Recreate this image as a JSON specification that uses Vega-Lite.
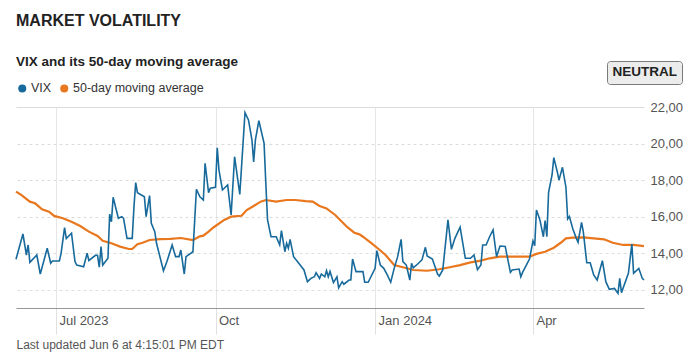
{
  "$schema": "https://vega.github.io/schema/vega-lite/v6.json",
  "width": 628,
  "height": 201,
  "autosize": {"type": "none"},
  "padding": {"left": 16, "top": 107, "right": 49, "bottom": 47},
  "background": "white",
  "config": {"font": "Liberation Sans", "view": {"stroke": null}},
  "title": {
    "text": "MARKET VOLATILITY",
    "subtitle": "VIX and its 50-day moving average",
    "anchor": "start",
    "frame": "group",
    "fontSize": 16,
    "fontWeight": "bold",
    "color": "#222222",
    "subtitleFontSize": 13.5,
    "subtitleFontWeight": "bold",
    "subtitleColor": "#222222",
    "subtitlePadding": 26,
    "offset": -8
  },
  "datasets": {
    "vix": [
      {"date": "2023-06-08", "series": "VIX", "value": 13.67},
      {"date": "2023-06-12", "series": "VIX", "value": 15.05},
      {"date": "2023-06-14", "series": "VIX", "value": 13.9},
      {"date": "2023-06-15", "series": "VIX", "value": 14.45},
      {"date": "2023-06-16", "series": "VIX", "value": 13.5},
      {"date": "2023-06-20", "series": "VIX", "value": 13.9},
      {"date": "2023-06-22", "series": "VIX", "value": 12.86},
      {"date": "2023-06-26", "series": "VIX", "value": 14.27},
      {"date": "2023-06-28", "series": "VIX", "value": 13.45},
      {"date": "2023-06-29", "series": "VIX", "value": 13.57},
      {"date": "2023-07-03", "series": "VIX", "value": 13.57},
      {"date": "2023-07-04", "series": "VIX", "value": 14.0},
      {"date": "2023-07-06", "series": "VIX", "value": 15.4},
      {"date": "2023-07-07", "series": "VIX", "value": 14.8},
      {"date": "2023-07-10", "series": "VIX", "value": 15.09},
      {"date": "2023-07-12", "series": "VIX", "value": 13.54},
      {"date": "2023-07-13", "series": "VIX", "value": 13.35},
      {"date": "2023-07-17", "series": "VIX", "value": 13.26},
      {"date": "2023-07-19", "series": "VIX", "value": 14.0},
      {"date": "2023-07-20", "series": "VIX", "value": 13.6},
      {"date": "2023-07-24", "series": "VIX", "value": 13.9},
      {"date": "2023-07-25", "series": "VIX", "value": 13.88},
      {"date": "2023-07-26", "series": "VIX", "value": 13.23},
      {"date": "2023-07-27", "series": "VIX", "value": 14.36},
      {"date": "2023-07-28", "series": "VIX", "value": 13.35},
      {"date": "2023-07-31", "series": "VIX", "value": 13.72},
      {"date": "2023-08-01", "series": "VIX", "value": 16.14},
      {"date": "2023-08-02", "series": "VIX", "value": 15.72},
      {"date": "2023-08-03", "series": "VIX", "value": 17.06},
      {"date": "2023-08-06", "series": "VIX", "value": 15.91},
      {"date": "2023-08-08", "series": "VIX", "value": 16.0},
      {"date": "2023-08-09", "series": "VIX", "value": 15.91},
      {"date": "2023-08-11", "series": "VIX", "value": 14.81},
      {"date": "2023-08-14", "series": "VIX", "value": 14.81},
      {"date": "2023-08-15", "series": "VIX", "value": 16.55},
      {"date": "2023-08-16", "series": "VIX", "value": 17.86},
      {"date": "2023-08-17", "series": "VIX", "value": 17.31},
      {"date": "2023-08-21", "series": "VIX", "value": 17.09},
      {"date": "2023-08-22", "series": "VIX", "value": 16.0},
      {"date": "2023-08-24", "series": "VIX", "value": 17.15},
      {"date": "2023-08-25", "series": "VIX", "value": 15.63},
      {"date": "2023-08-27", "series": "VIX", "value": 15.18},
      {"date": "2023-08-28", "series": "VIX", "value": 14.54},
      {"date": "2023-09-01", "series": "VIX", "value": 13.04},
      {"date": "2023-09-03", "series": "VIX", "value": 13.54},
      {"date": "2023-09-06", "series": "VIX", "value": 14.45},
      {"date": "2023-09-08", "series": "VIX", "value": 13.81},
      {"date": "2023-09-10", "series": "VIX", "value": 13.81},
      {"date": "2023-09-11", "series": "VIX", "value": 14.17},
      {"date": "2023-09-13", "series": "VIX", "value": 12.86},
      {"date": "2023-09-14", "series": "VIX", "value": 13.81},
      {"date": "2023-09-18", "series": "VIX", "value": 14.08},
      {"date": "2023-09-20", "series": "VIX", "value": 17.5},
      {"date": "2023-09-22", "series": "VIX", "value": 17.09},
      {"date": "2023-09-24", "series": "VIX", "value": 16.91},
      {"date": "2023-09-25", "series": "VIX", "value": 18.92},
      {"date": "2023-09-27", "series": "VIX", "value": 17.31},
      {"date": "2023-09-28", "series": "VIX", "value": 17.55},
      {"date": "2023-10-01", "series": "VIX", "value": 17.6},
      {"date": "2023-10-02", "series": "VIX", "value": 19.77},
      {"date": "2023-10-03", "series": "VIX", "value": 18.55},
      {"date": "2023-10-05", "series": "VIX", "value": 17.46},
      {"date": "2023-10-08", "series": "VIX", "value": 17.73},
      {"date": "2023-10-10", "series": "VIX", "value": 16.09},
      {"date": "2023-10-12", "series": "VIX", "value": 19.28},
      {"date": "2023-10-15", "series": "VIX", "value": 17.22},
      {"date": "2023-10-18", "series": "VIX", "value": 21.69},
      {"date": "2023-10-20", "series": "VIX", "value": 21.29},
      {"date": "2023-10-22", "series": "VIX", "value": 20.2},
      {"date": "2023-10-23", "series": "VIX", "value": 19.0},
      {"date": "2023-10-24", "series": "VIX", "value": 20.2},
      {"date": "2023-10-26", "series": "VIX", "value": 21.25},
      {"date": "2023-10-29", "series": "VIX", "value": 20.01},
      {"date": "2023-10-30", "series": "VIX", "value": 17.83},
      {"date": "2023-10-31", "series": "VIX", "value": 15.82},
      {"date": "2023-11-02", "series": "VIX", "value": 14.9},
      {"date": "2023-11-05", "series": "VIX", "value": 14.9},
      {"date": "2023-11-07", "series": "VIX", "value": 14.45},
      {"date": "2023-11-08", "series": "VIX", "value": 15.23},
      {"date": "2023-11-10", "series": "VIX", "value": 14.08},
      {"date": "2023-11-11", "series": "VIX", "value": 14.54},
      {"date": "2023-11-12", "series": "VIX", "value": 14.27},
      {"date": "2023-11-13", "series": "VIX", "value": 14.76},
      {"date": "2023-11-15", "series": "VIX", "value": 13.81},
      {"date": "2023-11-18", "series": "VIX", "value": 13.45},
      {"date": "2023-11-21", "series": "VIX", "value": 13.08},
      {"date": "2023-11-23", "series": "VIX", "value": 12.44},
      {"date": "2023-11-25", "series": "VIX", "value": 12.62},
      {"date": "2023-11-27", "series": "VIX", "value": 12.71},
      {"date": "2023-11-28", "series": "VIX", "value": 12.93},
      {"date": "2023-11-30", "series": "VIX", "value": 12.62},
      {"date": "2023-12-01", "series": "VIX", "value": 12.86},
      {"date": "2023-12-03", "series": "VIX", "value": 12.71},
      {"date": "2023-12-04", "series": "VIX", "value": 13.04},
      {"date": "2023-12-05", "series": "VIX", "value": 12.71},
      {"date": "2023-12-06", "series": "VIX", "value": 13.0},
      {"date": "2023-12-08", "series": "VIX", "value": 12.39},
      {"date": "2023-12-10", "series": "VIX", "value": 12.71},
      {"date": "2023-12-11", "series": "VIX", "value": 12.1},
      {"date": "2023-12-13", "series": "VIX", "value": 12.44},
      {"date": "2023-12-14", "series": "VIX", "value": 12.3},
      {"date": "2023-12-17", "series": "VIX", "value": 12.53},
      {"date": "2023-12-18", "series": "VIX", "value": 12.53},
      {"date": "2023-12-19", "series": "VIX", "value": 13.68},
      {"date": "2023-12-21", "series": "VIX", "value": 12.99},
      {"date": "2023-12-25", "series": "VIX", "value": 12.99},
      {"date": "2023-12-26", "series": "VIX", "value": 12.41},
      {"date": "2023-12-28", "series": "VIX", "value": 12.41},
      {"date": "2024-01-01", "series": "VIX", "value": 13.17},
      {"date": "2024-01-02", "series": "VIX", "value": 14.14},
      {"date": "2024-01-04", "series": "VIX", "value": 13.35},
      {"date": "2024-01-06", "series": "VIX", "value": 13.17},
      {"date": "2024-01-08", "series": "VIX", "value": 12.81},
      {"date": "2024-01-10", "series": "VIX", "value": 12.41},
      {"date": "2024-01-12", "series": "VIX", "value": 13.17},
      {"date": "2024-01-14", "series": "VIX", "value": 13.81},
      {"date": "2024-01-16", "series": "VIX", "value": 14.76},
      {"date": "2024-01-17", "series": "VIX", "value": 13.54},
      {"date": "2024-01-19", "series": "VIX", "value": 13.35},
      {"date": "2024-01-21", "series": "VIX", "value": 12.53},
      {"date": "2024-01-22", "series": "VIX", "value": 13.45},
      {"date": "2024-01-23", "series": "VIX", "value": 13.2},
      {"date": "2024-01-26", "series": "VIX", "value": 13.45},
      {"date": "2024-01-28", "series": "VIX", "value": 13.63},
      {"date": "2024-01-30", "series": "VIX", "value": 14.32},
      {"date": "2024-01-31", "series": "VIX", "value": 13.85},
      {"date": "2024-02-03", "series": "VIX", "value": 13.68},
      {"date": "2024-02-06", "series": "VIX", "value": 12.86},
      {"date": "2024-02-07", "series": "VIX", "value": 12.75},
      {"date": "2024-02-09", "series": "VIX", "value": 13.08},
      {"date": "2024-02-12", "series": "VIX", "value": 15.82},
      {"date": "2024-02-14", "series": "VIX", "value": 14.21},
      {"date": "2024-02-16", "series": "VIX", "value": 14.81},
      {"date": "2024-02-19", "series": "VIX", "value": 15.42},
      {"date": "2024-02-22", "series": "VIX", "value": 13.72},
      {"date": "2024-02-25", "series": "VIX", "value": 13.72},
      {"date": "2024-02-27", "series": "VIX", "value": 13.9},
      {"date": "2024-02-29", "series": "VIX", "value": 13.1},
      {"date": "2024-03-02", "series": "VIX", "value": 13.35},
      {"date": "2024-03-03", "series": "VIX", "value": 14.45},
      {"date": "2024-03-05", "series": "VIX", "value": 14.45},
      {"date": "2024-03-07", "series": "VIX", "value": 14.9},
      {"date": "2024-03-09", "series": "VIX", "value": 15.27},
      {"date": "2024-03-11", "series": "VIX", "value": 13.81},
      {"date": "2024-03-13", "series": "VIX", "value": 14.39},
      {"date": "2024-03-16", "series": "VIX", "value": 14.37},
      {"date": "2024-03-19", "series": "VIX", "value": 12.95},
      {"date": "2024-03-20", "series": "VIX", "value": 13.08},
      {"date": "2024-03-24", "series": "VIX", "value": 13.13},
      {"date": "2024-03-25", "series": "VIX", "value": 12.71},
      {"date": "2024-03-26", "series": "VIX", "value": 12.95},
      {"date": "2024-03-30", "series": "VIX", "value": 13.68},
      {"date": "2024-04-01", "series": "VIX", "value": 14.67},
      {"date": "2024-04-02", "series": "VIX", "value": 14.41},
      {"date": "2024-04-03", "series": "VIX", "value": 16.36},
      {"date": "2024-04-05", "series": "VIX", "value": 15.82},
      {"date": "2024-04-07", "series": "VIX", "value": 14.9},
      {"date": "2024-04-08", "series": "VIX", "value": 15.78},
      {"date": "2024-04-09", "series": "VIX", "value": 14.9},
      {"date": "2024-04-10", "series": "VIX", "value": 17.33},
      {"date": "2024-04-12", "series": "VIX", "value": 18.28},
      {"date": "2024-04-13", "series": "VIX", "value": 19.23},
      {"date": "2024-04-15", "series": "VIX", "value": 18.46},
      {"date": "2024-04-16", "series": "VIX", "value": 18.0},
      {"date": "2024-04-18", "series": "VIX", "value": 18.7},
      {"date": "2024-04-20", "series": "VIX", "value": 17.61},
      {"date": "2024-04-21", "series": "VIX", "value": 15.87},
      {"date": "2024-04-22", "series": "VIX", "value": 16.0},
      {"date": "2024-04-24", "series": "VIX", "value": 15.32},
      {"date": "2024-04-26", "series": "VIX", "value": 14.81},
      {"date": "2024-04-27", "series": "VIX", "value": 14.6},
      {"date": "2024-04-29", "series": "VIX", "value": 15.69},
      {"date": "2024-04-30", "series": "VIX", "value": 15.18},
      {"date": "2024-05-02", "series": "VIX", "value": 13.48},
      {"date": "2024-05-04", "series": "VIX", "value": 13.48},
      {"date": "2024-05-06", "series": "VIX", "value": 12.81},
      {"date": "2024-05-08", "series": "VIX", "value": 12.53},
      {"date": "2024-05-11", "series": "VIX", "value": 13.59},
      {"date": "2024-05-13", "series": "VIX", "value": 12.44},
      {"date": "2024-05-15", "series": "VIX", "value": 12.02},
      {"date": "2024-05-18", "series": "VIX", "value": 12.07},
      {"date": "2024-05-20", "series": "VIX", "value": 11.8},
      {"date": "2024-05-21", "series": "VIX", "value": 12.62},
      {"date": "2024-05-22", "series": "VIX", "value": 11.84},
      {"date": "2024-05-26", "series": "VIX", "value": 12.9},
      {"date": "2024-05-28", "series": "VIX", "value": 14.5},
      {"date": "2024-05-29", "series": "VIX", "value": 12.9},
      {"date": "2024-06-01", "series": "VIX", "value": 13.17},
      {"date": "2024-06-03", "series": "VIX", "value": 12.62},
      {"date": "2024-06-04", "series": "VIX", "value": 12.53}
    ],
    "ma": [
      {"date": "2023-06-08", "series": "50-day moving average", "value": 17.37},
      {"date": "2023-06-11", "series": "50-day moving average", "value": 17.19},
      {"date": "2023-06-16", "series": "50-day moving average", "value": 16.82},
      {"date": "2023-06-19", "series": "50-day moving average", "value": 16.73},
      {"date": "2023-06-23", "series": "50-day moving average", "value": 16.4},
      {"date": "2023-06-27", "series": "50-day moving average", "value": 16.27},
      {"date": "2023-06-30", "series": "50-day moving average", "value": 16.04},
      {"date": "2023-07-05", "series": "50-day moving average", "value": 15.91},
      {"date": "2023-07-10", "series": "50-day moving average", "value": 15.72},
      {"date": "2023-07-15", "series": "50-day moving average", "value": 15.49},
      {"date": "2023-07-20", "series": "50-day moving average", "value": 15.18},
      {"date": "2023-07-25", "series": "50-day moving average", "value": 14.94},
      {"date": "2023-07-28", "series": "50-day moving average", "value": 14.68},
      {"date": "2023-08-02", "series": "50-day moving average", "value": 14.54},
      {"date": "2023-08-07", "series": "50-day moving average", "value": 14.36},
      {"date": "2023-08-12", "series": "50-day moving average", "value": 14.23},
      {"date": "2023-08-14", "series": "50-day moving average", "value": 14.23},
      {"date": "2023-08-17", "series": "50-day moving average", "value": 14.49},
      {"date": "2023-08-20", "series": "50-day moving average", "value": 14.57},
      {"date": "2023-08-24", "series": "50-day moving average", "value": 14.72},
      {"date": "2023-08-30", "series": "50-day moving average", "value": 14.77},
      {"date": "2023-09-05", "series": "50-day moving average", "value": 14.78},
      {"date": "2023-09-11", "series": "50-day moving average", "value": 14.83},
      {"date": "2023-09-18", "series": "50-day moving average", "value": 14.72},
      {"date": "2023-09-22", "series": "50-day moving average", "value": 14.92},
      {"date": "2023-09-24", "series": "50-day moving average", "value": 14.96},
      {"date": "2023-09-27", "series": "50-day moving average", "value": 15.18},
      {"date": "2023-09-30", "series": "50-day moving average", "value": 15.42},
      {"date": "2023-10-06", "series": "50-day moving average", "value": 15.82},
      {"date": "2023-10-10", "series": "50-day moving average", "value": 16.0},
      {"date": "2023-10-16", "series": "50-day moving average", "value": 16.05},
      {"date": "2023-10-19", "series": "50-day moving average", "value": 16.36},
      {"date": "2023-10-23", "series": "50-day moving average", "value": 16.58},
      {"date": "2023-10-27", "series": "50-day moving average", "value": 16.82},
      {"date": "2023-10-30", "series": "50-day moving average", "value": 16.91},
      {"date": "2023-11-05", "series": "50-day moving average", "value": 16.82},
      {"date": "2023-11-11", "series": "50-day moving average", "value": 16.91},
      {"date": "2023-11-16", "series": "50-day moving average", "value": 16.91},
      {"date": "2023-11-22", "series": "50-day moving average", "value": 16.85},
      {"date": "2023-11-26", "series": "50-day moving average", "value": 16.82},
      {"date": "2023-11-30", "series": "50-day moving average", "value": 16.58},
      {"date": "2023-12-04", "series": "50-day moving average", "value": 16.45},
      {"date": "2023-12-09", "series": "50-day moving average", "value": 16.09},
      {"date": "2023-12-12", "series": "50-day moving average", "value": 15.8},
      {"date": "2023-12-16", "series": "50-day moving average", "value": 15.42},
      {"date": "2023-12-18", "series": "50-day moving average", "value": 15.27},
      {"date": "2023-12-20", "series": "50-day moving average", "value": 15.12},
      {"date": "2023-12-23", "series": "50-day moving average", "value": 15.03},
      {"date": "2023-12-25", "series": "50-day moving average", "value": 14.9},
      {"date": "2023-12-30", "series": "50-day moving average", "value": 14.54},
      {"date": "2024-01-03", "series": "50-day moving average", "value": 14.23},
      {"date": "2024-01-07", "series": "50-day moving average", "value": 13.9},
      {"date": "2024-01-12", "series": "50-day moving average", "value": 13.35},
      {"date": "2024-01-17", "series": "50-day moving average", "value": 13.23},
      {"date": "2024-01-23", "series": "50-day moving average", "value": 13.08},
      {"date": "2024-01-31", "series": "50-day moving average", "value": 13.04},
      {"date": "2024-02-07", "series": "50-day moving average", "value": 13.12},
      {"date": "2024-02-13", "series": "50-day moving average", "value": 13.23},
      {"date": "2024-02-19", "series": "50-day moving average", "value": 13.35},
      {"date": "2024-02-25", "series": "50-day moving average", "value": 13.5},
      {"date": "2024-03-02", "series": "50-day moving average", "value": 13.59},
      {"date": "2024-03-07", "series": "50-day moving average", "value": 13.72},
      {"date": "2024-03-13", "series": "50-day moving average", "value": 13.81},
      {"date": "2024-03-19", "series": "50-day moving average", "value": 13.81},
      {"date": "2024-03-25", "series": "50-day moving average", "value": 13.81},
      {"date": "2024-03-30", "series": "50-day moving average", "value": 13.81},
      {"date": "2024-04-03", "series": "50-day moving average", "value": 13.96},
      {"date": "2024-04-08", "series": "50-day moving average", "value": 14.08},
      {"date": "2024-04-13", "series": "50-day moving average", "value": 14.3},
      {"date": "2024-04-17", "series": "50-day moving average", "value": 14.57},
      {"date": "2024-04-20", "series": "50-day moving average", "value": 14.81},
      {"date": "2024-04-24", "series": "50-day moving average", "value": 14.85},
      {"date": "2024-04-30", "series": "50-day moving average", "value": 14.87},
      {"date": "2024-05-06", "series": "50-day moving average", "value": 14.81},
      {"date": "2024-05-12", "series": "50-day moving average", "value": 14.76},
      {"date": "2024-05-17", "series": "50-day moving average", "value": 14.57},
      {"date": "2024-05-23", "series": "50-day moving average", "value": 14.45},
      {"date": "2024-05-29", "series": "50-day moving average", "value": 14.45},
      {"date": "2024-06-04", "series": "50-day moving average", "value": 14.39}
    ],
    "badge": [{"status": "NEUTRAL"}]
  },
  "layer": [
    {
      "data": {"name": "ma"},
      "mark": {"type": "line", "strokeWidth": 2.2},
      "encoding": {
        "x": {
          "field": "date",
          "type": "temporal",
          "scale": {"domain": [{"year": 2023, "month": 6, "date": 8}, {"year": 2024, "month": 6, "date": 4}], "nice": false},
          "axis": {
            "values": [{"year": 2023, "month": 7, "date": 1}, {"year": 2023, "month": 10, "date": 1}, {"year": 2024, "month": 1, "date": 1}, {"year": 2024, "month": 4, "date": 1}],
            "labelExpr": "timeFormat(datum.value, (month(datum.value) == 0 || month(datum.value) == 6) ? '%b %Y' : '%b')",
            "labelAlign": "left",
            "labelBaseline": "top",
            "labelOffset": 3,
            "labelPadding": -20,
            "labelFontSize": 13,
            "labelColor": "#555555",
            "labelFlush": false,
            "tickSize": 26,
            "tickColor": "#e0e0e0",
            "domainColor": "#999999",
            "domainWidth": 1.2,
            "grid": true,
            "gridColor": "#e6e6e6",
            "title": "Last updated Jun 6 at 4:15:01 PM EDT",
            "titleX": 0,
            "titleY": 31,
            "titleAlign": "left",
            "titleBaseline": "top",
            "titleFontSize": 12,
            "titleFontWeight": "normal",
            "titleColor": "#555555"
          }
        },
        "y": {
          "field": "value",
          "type": "quantitative",
          "scale": {"domain": [11, 22], "nice": false, "zero": false},
          "axis": {
            "orient": "right",
            "values": [12, 14, 16, 18, 20, 22],
            "labelExpr": "replace(format(datum.value, '.2f'), '.', ',')",
            "domain": false,
            "ticks": false,
            "labelPadding": 6,
            "labelFontSize": 13,
            "labelColor": "#555555",
            "gridColor": "#dcdcdc",
            "gridDash": {"condition": {"test": "datum.value === 22", "value": []}, "value": [3, 3]},
            "title": null
          }
        },
        "color": {
          "field": "series",
          "type": "nominal",
          "scale": {"domain": ["VIX", "50-day moving average"], "range": ["#176a9b", "#e8771e"]},
          "legend": {
            "orient": "none",
            "legendX": 0,
            "legendY": -25,
            "direction": "horizontal",
            "title": null,
            "symbolType": "circle",
            "symbolSize": 64,
            "labelFontSize": 12.5,
            "labelColor": "#333333",
            "labelOffset": 2.5,
            "columnPadding": 6,
            "padding": 0,
            "encode": {"symbols": {"update": {"fill": {"scale": "color", "field": "value"}, "strokeWidth": {"value": 0}}}}
          }
        }
      }
    },
    {
      "data": {"name": "vix"},
      "mark": {"type": "line", "strokeWidth": 1.6},
      "encoding": {
        "x": {"field": "date", "type": "temporal"},
        "y": {"field": "value", "type": "quantitative"},
        "color": {"field": "series", "type": "nominal"}
      }
    },
    {
      "data": {"name": "badge"},
      "mark": {"type": "point", "opacity": 0},
      "encoding": {
        "shape": {
          "field": "status",
          "type": "nominal",
          "legend": {
            "orient": "none",
            "legendX": 591,
            "legendY": -46,
            "title": null,
            "labelFontSize": 13.5,
            "labelFontWeight": "bold",
            "labelColor": "#222222",
            "fillColor": "#ececec",
            "strokeColor": "#7a7a7a",
            "cornerRadius": 3,
            "padding": 4.5,
            "symbolSize": 0.01,
            "labelOffset": -12.5,
            "symbolOpacity": 0
          }
        }
      }
    }
  ]
}
